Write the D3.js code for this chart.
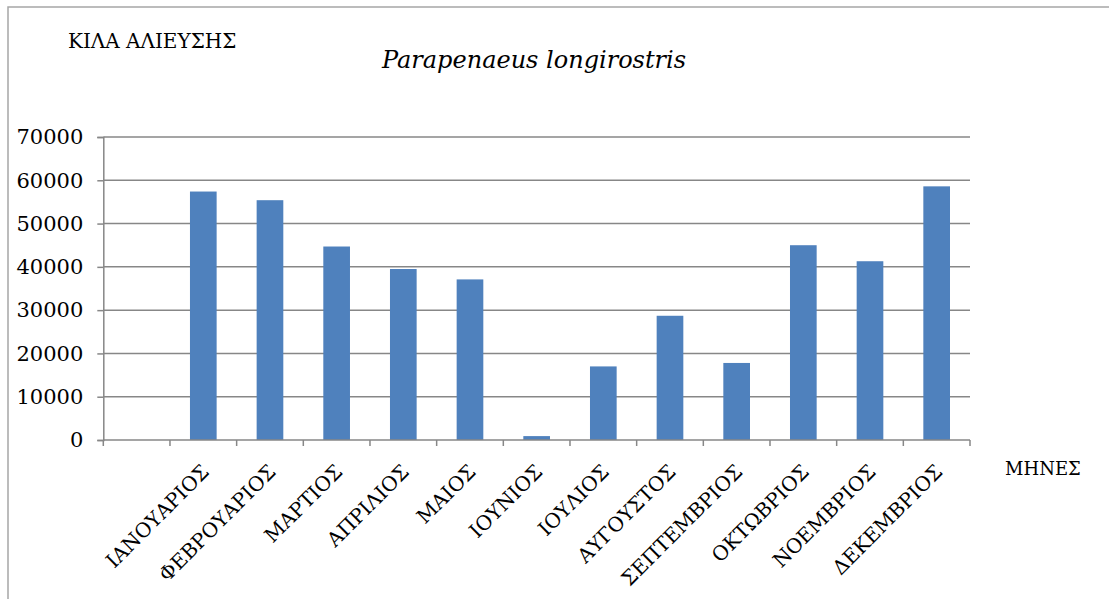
<!DOCTYPE html>
<html>
<head>
<meta charset="utf-8">
<script src="https://cdn.jsdelivr.net/npm/d3@7"></script>
<style>
  html, body { margin: 0; padding: 0; background: #fff; }
  svg { display: block; }
</style>
</head>
<body>
<svg id="chart" width="1109" height="599"></svg>
<script>
// ---- data ----
const categories = ["", "ΙΑΝΟΥΑΡΙΟΣ", "ΦΕΒΡΟΥΑΡΙΟΣ", "ΜΑΡΤΙΟΣ", "ΑΠΡΙΛΙΟΣ", "ΜΑΙΟΣ", "ΙΟΥΝΙΟΣ",
  "ΙΟΥΛΙΟΣ", "ΑΥΓΟΥΣΤΟΣ", "ΣΕΠΤΕΜΒΡΙΟΣ", "ΟΚΤΩΒΡΙΟΣ", "ΝΟΕΜΒΡΙΟΣ", "ΔΕΚΕΜΒΡΙΟΣ"];
const values = [null, 57400, 55400, 44700, 39500, 37100, 900, 17000, 28700, 17800, 45000, 41300, 58600];
const yTicks = [0, 10000, 20000, 30000, 40000, 50000, 60000, 70000];
const titleText = "Parapenaeus longirostris";
const yTitle = "ΚΙΛΑ ΑΛΙΕΥΣΗΣ";
const xTitle = "ΜΗΝΕΣ";

// ---- layout ----
const FONT = "'DejaVu Serif', serif";
const svg = d3.select("#chart");
const pLeft = 103.3, pRight = 970, pTop = 137, pBottom = 440;
const gridColor = "#878787";

// outer frame
svg.append("rect").attr("x", 8).attr("y", 7).attr("width", 1200).attr("height", 700)
  .attr("fill", "none").attr("stroke", "#a6a6a6").attr("stroke-width", 1.5);

const x = d3.scaleBand().domain(categories).range([pLeft, pRight])
  .paddingInner(0.6).paddingOuter(0.3);
const y = d3.scaleLinear().domain([0, 70000]).range([pBottom, pTop]);

// gridlines
svg.append("g").selectAll("line").data(yTicks.filter(d => d > 0)).join("line")
  .attr("x1", pLeft).attr("x2", pRight)
  .attr("y1", d => y(d)).attr("y2", d => y(d))
  .attr("stroke", gridColor).attr("stroke-width", 1.5);

// y axis
const yAxis = svg.append("g").attr("transform", `translate(${pLeft},0)`)
  .call(d3.axisLeft(y).tickValues(yTicks).tickSize(6).tickPadding(14).tickFormat(d3.format("d")));
yAxis.attr("font-family", FONT).attr("font-size", 21);
yAxis.select(".domain").attr("stroke", gridColor).attr("stroke-width", 1.5);
yAxis.selectAll(".tick line").attr("stroke", gridColor).attr("stroke-width", 1.5);
yAxis.selectAll(".tick text").attr("fill", "#000");

// bars
svg.append("g").selectAll("rect").data(categories.map((c, i) => ({c, v: values[i]})).filter(d => d.v != null))
  .join("rect")
  .attr("x", d => x(d.c)).attr("width", x.bandwidth())
  .attr("y", d => y(d.v)).attr("height", d => y(0) - y(d.v))
  .attr("fill", "#4f81bd");

// x axis line and ticks at band boundaries
const step = x.step();
const bounds = categories.map((c, i) => pLeft + i * step).concat([pRight]);
svg.append("line").attr("x1", pLeft).attr("x2", pRight).attr("y1", pBottom).attr("y2", pBottom)
  .attr("stroke", gridColor).attr("stroke-width", 1.5);
svg.append("g").selectAll("line").data(bounds).join("line")
  .attr("x1", d => d).attr("x2", d => d).attr("y1", pBottom).attr("y2", pBottom + 6)
  .attr("stroke", gridColor).attr("stroke-width", 1.5);

// x labels rotated
svg.append("g").selectAll("text").data(categories.filter(c => c !== "")).join("text")
  .attr("transform", d => `translate(${x(d) + x.bandwidth() / 2 + 7},473) rotate(-45)`)
  .attr("text-anchor", "end")
  .attr("font-family", FONT).attr("font-size", 20)
  .attr("fill", "#000")
  .text(d => d);

// titles
svg.append("text").attr("x", 534).attr("y", 68).attr("text-anchor", "middle")
  .attr("font-family", FONT).attr("font-size", 24).attr("font-style", "italic")
  .attr("fill", "#000").text(titleText);
svg.append("text").attr("x", 68).attr("y", 48)
  .attr("font-family", FONT).attr("font-size", 20).attr("fill", "#000").text(yTitle);
svg.append("text").attr("x", 1005).attr("y", 475)
  .attr("font-family", FONT).attr("font-size", 18).attr("fill", "#000").text(xTitle);
</script>
</body>
</html>
